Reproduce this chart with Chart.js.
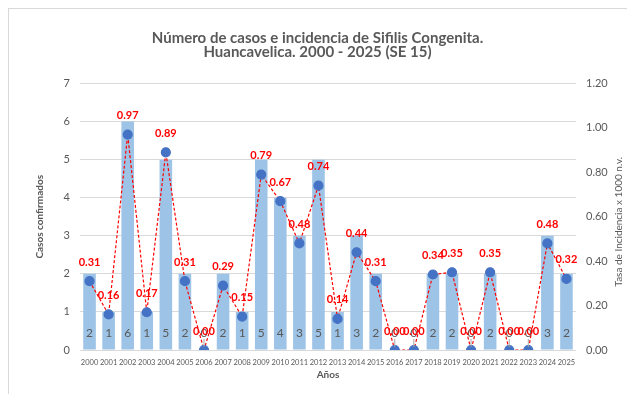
<!DOCTYPE html>
<html>
<head>
<meta charset="utf-8">
<script src="https://cdn.jsdelivr.net/npm/chart.js@4"></script>
<style>
  html, body { margin: 0; padding: 0; background: #fff; }
  #wrap { position: relative; width: 627px; height: 394px; overflow: hidden; }
  #frame { position: absolute; left: 8px; top: 8px; width: 640px; height: 400px; border: 1px solid #d9d9d9; box-sizing: border-box; }
  canvas { position: absolute; left: 0; top: 0; }
</style>
</head>
<body>
<div id="wrap">
  <div id="frame"></div>
  <canvas id="myChart" width="627" height="394"></canvas>
</div>
<script>
const years = ['2000', '2001', '2002', '2003', '2004', '2005', '2006', '2007', '2008', '2009',
  '2010', '2011', '2012', '2013', '2014', '2015', '2016', '2017', '2018', '2019',
  '2020', '2021', '2022', '2023', '2024', '2025'];
const casos = [2, 1, 6, 1, 5, 2, 0, 2, 1, 5, 4, 3, 5, 1, 3, 2, 0, 0, 2, 2, 0, 2, 0, 0, 3, 2];
const tasa = [0.31, 0.16, 0.97, 0.17, 0.89, 0.31, 0.00, 0.29, 0.15, 0.79, 0.67, 0.48, 0.74,
  0.14, 0.44, 0.31, 0.00, 0.00, 0.34, 0.35, 0.00, 0.35, 0.00, 0.00, 0.48, 0.32];

const FONT = 'Lato, "Open Sans", sans-serif';
const GREY = '#595959';

// draws the case counts at the foot of each bar, the rate above each point
// and the right axis title (reading bottom to top)
const valueLabels = {
  id: 'valueLabels',
  afterDatasetsDraw(chart) {
    const ctx = chart.ctx;
    const bars = chart.getDatasetMeta(1).data;
    const pts = chart.getDatasetMeta(0).data;
    const base = chart.scales.y.getPixelForValue(0);
    const area = chart.chartArea;
    ctx.save();
    ctx.textAlign = 'center';
    ctx.textBaseline = 'middle';

    bars.forEach((bar, i) => {
      const y = base - 17;
      if (casos[i] === 0) {
        ctx.strokeStyle = '#a6a6a6';
        ctx.lineWidth = 1;
        ctx.beginPath();
        ctx.moveTo(bar.x, y + 6);
        ctx.lineTo(bar.x, base - 3);
        ctx.stroke();
      }
      ctx.font = '12px ' + FONT;
      ctx.fillStyle = GREY;
      ctx.fillText(casos[i], bar.x, y);
    });

    pts.forEach((pt, i) => {
      ctx.font = 'bold 11px ' + FONT;
      ctx.fillStyle = '#ff0000';
      ctx.fillText(tasa[i].toFixed(2), pt.x, pt.y - 19);
    });

    ctx.translate(619, (area.top + area.bottom) / 2 + 5);
    ctx.rotate(-Math.PI / 2);
    ctx.font = '10px ' + FONT;
    ctx.fillStyle = GREY;
    ctx.fillText('Tasa de Incidencia x 1000 n.v.', 0, 0);
    ctx.restore();
  }
};

const ctx = document.getElementById('myChart').getContext('2d');
const chart = new Chart(ctx, {
  type: 'bar',
  data: {
    labels: years,
    datasets: [{
      type: 'line',
      label: 'Tasa',
      data: tasa,
      yAxisID: 'y1',
      borderColor: '#ff0000',
      borderWidth: 1.2,
      borderDash: [3, 2],
      pointRadius: 4.5,
      pointBackgroundColor: '#4472c4',
      pointBorderColor: '#4472c4',
      tension: 0,
      order: 0
    }, {
      label: 'Casos',
      data: casos,
      yAxisID: 'y',
      backgroundColor: '#9dc3e6',
      categoryPercentage: 1,
      barPercentage: 0.66,
      order: 1
    }]
  },
  options: {
    responsive: false,
    animation: false,
    devicePixelRatio: 1,
    layout: { padding: { top: 0, left: 8, right: 0, bottom: 0 } },
    plugins: {
      legend: { display: false },
      tooltip: { enabled: false },
      title: {
        display: true,
        text: ['Número de casos e incidencia de Sifilis Congenita.', 'Huancavelica. 2000 - 2025 (SE 15)'],
        color: GREY,
        font: { family: FONT, size: 15, weight: 'bold', lineHeight: 0.95 },
        padding: { top: 31, bottom: 24 }
      }
    },
    scales: {
      x: {
        grid: { display: false },
        border: { display: false },
        ticks: { color: GREY, font: { family: FONT, size: 7.5 }, maxRotation: 0, autoSkip: false, padding: 0 },
        title: { display: true, text: 'Años', color: GREY, font: { family: FONT, size: 10, weight: 'bold' }, padding: { top: 2, bottom: 13 } }
      },
      y: {
        position: 'left',
        min: 0,
        max: 7,
        ticks: { stepSize: 1, color: GREY, font: { family: FONT, size: 11 }, padding: 10 },
        grid: { color: '#d9d9d9', drawTicks: false },
        border: { display: false },
        title: { display: true, text: 'Casos confirmados', color: GREY, font: { family: FONT, size: 10, weight: 'bold' }, padding: { top: 26, bottom: 0 } },
        afterFit(scale) { scale.width = 72; }
      },
      y1: {
        position: 'right',
        min: 0,
        max: 1.2,
        ticks: { stepSize: 0.2, color: GREY, font: { family: FONT, size: 11 }, padding: 10, callback: v => v.toFixed(2) },
        grid: { display: false, drawTicks: false },
        border: { display: false },
        afterFit(scale) { scale.width = 51; }
      }
    }
  },
  plugins: [valueLabels]
});
</script>
</body>
</html>
